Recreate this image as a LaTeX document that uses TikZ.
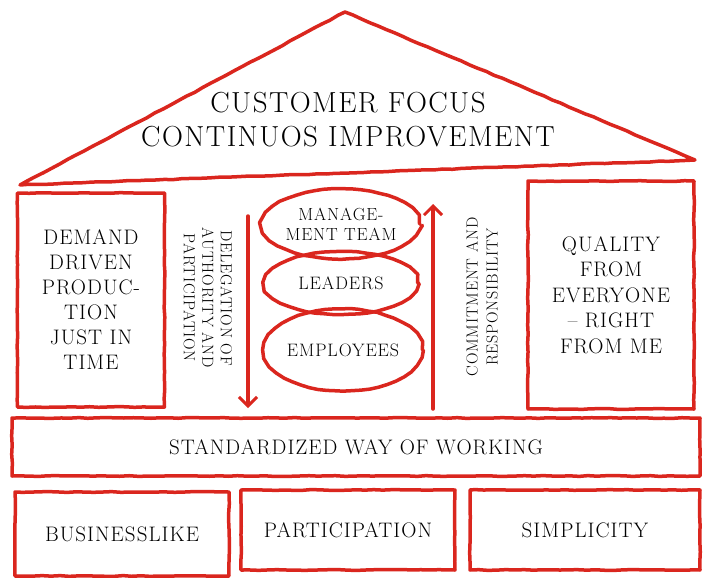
\documentclass[tikz,border=0pt]{standalone}
\usepackage{fontspec}
\setmainfont{Latin Modern Roman}[LetterSpace=5]
\usetikzlibrary{arrows.meta,decorations.pathmorphing,shapes.geometric}
\definecolor{pen}{RGB}{218,38,30}
\tikzset{
  chalk/.style={draw=pen, line width=3.5pt, line join=round, line cap=round,
    decorate, decoration={random steps, segment length=9pt, amplitude=0.4pt}},
  box/.style={chalk, inner sep=0pt, align=center},
  ring/.style={chalk, ellipse, inner sep=0pt, align=center},
  flow/.style={draw=pen, line width=3.5pt, line cap=round,
    -{Straight Barb[length=9pt,width=18pt,line width=3pt]}},
}
\begin{document}
\begin{tikzpicture}[x=1pt, y=-1pt]  % pixel-like units, y downwards
  \useasboundingbox (0,0) rectangle (707,578);

  % roof
  \draw[chalk] (20,185) -- (345,12) -- (695,160) -- cycle;
  \node[align=center, font=\fontsize{29}{34}\selectfont] (roof) at (348,120)
    {CUSTOMER FOCUS\\CONTINUOS IMPROVEMENT};

  % the two outer pillars
  \node[box, minimum width=147, minimum height=214, font=\fontsize{21}{25}\selectfont]
    (demand) at (91,300) {DEMAND\\DRIVEN\\PRODUC-\\TION\\JUST IN\\TIME};
  \node[box, minimum width=166, minimum height=228, font=\fontsize{21}{25.5}\selectfont]
    (quality) at (611,295) {QUALITY\\FROM\\EVERYONE\\– RIGHT\\FROM ME};

  % middle pillar: three levels
  \node[ring, minimum width=157, minimum height=70, font=\fontsize{17.5}{20}\selectfont]
    (mgmt) at (341,224) {MANAGE-\\MENT TEAM};
  \node[ring, minimum width=153, minimum height=63, font=\fontsize{18}{20}\selectfont]
    (leaders) at (341,283) {LEADERS};
  \node[ring, minimum width=150, minimum height=82, font=\fontsize{18}{20}\selectfont]
    (employees) at (343,350) {EMPLOYEES};

  % arrows down and up
  \coordinate (dtop) at (248,216);
  \coordinate (dbot) at (248,408);
  \coordinate (ubot) at (433,409);
  \coordinate (utop) at (433,204);
  \draw[flow] (dtop) -- (dbot);
  \draw[flow] (ubot) -- (utop);
  \node[rotate=-90, align=center, font=\fontsize{16}{18.5}\selectfont] (deleg) at (208,298)
    {DELEGATION OF\\AUTHORITY AND\\PARTICIPATION};
  \node[rotate=90, align=center, font=\fontsize{16}{20}\selectfont] (commit) at (482,297)
    {COMMITMENT AND\\RESPONSIBILITY};

  % floor
  \node[box, minimum width=688, minimum height=58, font=\fontsize{21}{22}\selectfont]
    (std) at (356,447) {STANDARDIZED WAY OF WORKING};

  % foundation
  \node[box, minimum width=214, minimum height=84, font=\fontsize{21}{22}\selectfont]
    (biz) at (122,534) {BUSINESSLIKE};
  \node[box, minimum width=214, minimum height=80, font=\fontsize{21}{22}\selectfont]
    (part) at (348,530) {PARTICIPATION};
  \node[box, minimum width=230, minimum height=80, font=\fontsize{21}{22}\selectfont]
    (simp) at (585,530) {SIMPLICITY};

\end{tikzpicture}
\end{document}
